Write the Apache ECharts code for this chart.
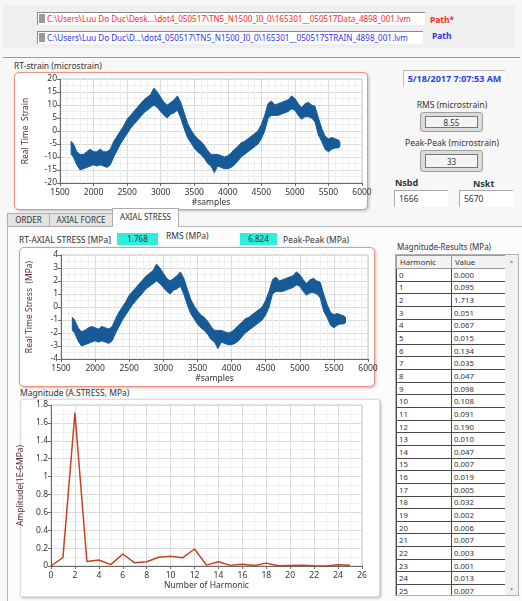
<!DOCTYPE html>
<html>
<head>
<meta charset="utf-8">
<script src="https://cdn.jsdelivr.net/npm/echarts@6/dist/echarts.min.js"></script>
<style>
  body { margin: 0; width: 522px; height: 601px; overflow: hidden; background: #f7f7f7;
         font-family: "Noto Sans", sans-serif; font-size: 8px; color: #333; position: relative; }
  .abs { position: absolute; white-space: nowrap; }
  .frame { position: absolute; background: #fff; border: 1.5px solid #f0907f; border-radius: 5px;
           box-shadow: 1px 1px 3px rgba(0,0,0,0.25); box-sizing: border-box; }
  .pathbox { position: absolute; background: #fff; border-top: 1px solid #8a8a8a; border-left: 1px solid #8a8a8a;
             box-sizing: border-box; font-size: 8.1px; line-height: 11px; padding-left: 9px; white-space: nowrap; overflow: hidden; }
  .pathbox i { position: absolute; left: 1px; top: 1px; width: 6px; height: 9px; background: #9a9a9a; }
  .bevel { position: absolute; background: #dcdcdc; border: 1px solid #a0a0a0; border-radius: 3px; box-sizing: border-box; }
  .bevel div { position: absolute; left: 4px; right: 4px; top: 3px; bottom: 3px; background: #f4f4f4;
               border: 1px solid #777; text-align: center; font-size: 8px; line-height: 12px; }
  .numbox { position: absolute; background: #fff; border-top: 1px solid #aaa; border-left: 1px solid #aaa;
            box-sizing: border-box; font-size: 8.5px; line-height: 15px; padding-left: 4px; }
  .tab { position: absolute; background: #e3e3e3; border: 1px solid #adadad; box-sizing: border-box;
         text-align: center; font-size: 8px; line-height: 12px; }
  .cyan { position: absolute; background: #2eeede; text-align: center; font-size: 8px; line-height: 12px; }
  table { border-collapse: collapse; table-layout: fixed; font-size: 7.8px; }
  td { border: 1px solid #4a4a4a; height: 11.65px; padding: 0 0 0 2px; line-height: 10px; overflow: hidden; }
  th { border: 1px solid #9a9a9a; height: 12px; padding: 0 0 0 3px; font-weight: normal; text-align: left; background: #f2f2f2; }
</style>
</head>
<body>
<!-- path controls -->
<div class="abs" style="left:3px;top:5px;width:512px;height:43px;background:#efefef;"></div>
<div class="pathbox" style="left:37px;top:12px;width:388px;height:13px;color:#ff2a2a;"><i></i>C:\Users\Luu Do Duc\Desk...\dot4_050517\TN5_N1500_I0_0\165301__050517Data_4898_001.lvm</div>
<div class="abs" style="left:430px;top:14px;color:#ff2a2a;font-weight:bold;font-size:8.5px;">Path*</div>
<div class="pathbox" style="left:37px;top:31px;width:386px;height:13px;color:#3434e6;"><i></i>C:\Users\Luu Do Duc\D...\dot4_050517\TN5_N1500_I0_0\165301__050517STRAIN_4898_001.lvm</div>
<div class="abs" style="left:432px;top:30px;color:#3434e6;font-weight:bold;font-size:8.5px;">Path</div>
<div class="abs" style="left:3px;top:57px;width:517px;height:1px;background:#f07a68;"></div>

<!-- strain section -->
<div class="abs" style="left:14px;top:60px;font-size:8.5px;">RT-strain (microstrain)</div>
<div class="frame" style="left:14px;top:72px;width:354px;height:138px;"></div>

<div class="abs" style="left:403px;top:70px;width:102px;height:17px;background:#f9f9f9;border-top:1.5px solid #bdbdbd;border-left:1.5px solid #bdbdbd;box-sizing:border-box;color:#2a3ff0;font-weight:bold;font-size:9px;line-height:15px;text-align:center;">5/18/2017 7:07:53 AM</div>
<div class="abs" style="left:402px;top:99px;width:100px;text-align:center;font-size:8.5px;">RMS (microstrain)</div>
<div class="bevel" style="left:420px;top:112px;width:63px;height:20px;"><div>8.55</div></div>
<div class="abs" style="left:397px;top:137px;width:110px;text-align:center;font-size:8.5px;">Peak-Peak (microstrain)</div>
<div class="bevel" style="left:420px;top:150px;width:63px;height:22px;"><div style="line-height:14px;">33</div></div>
<div class="abs" style="left:395px;top:176px;font-weight:bold;font-size:9px;">Nsbd</div>
<div class="abs" style="left:473px;top:177px;font-weight:bold;font-size:9px;">Nskt</div>
<div class="numbox" style="left:394px;top:190px;width:54px;height:17px;">1666</div>
<div class="numbox" style="left:459px;top:190px;width:54px;height:17px;">5670</div>

<!-- tabs -->
<div class="abs" style="left:7px;top:226px;width:515px;height:375px;background:#fcfcfc;border-left:1px solid #b8b8b8;border-top:1px solid #b8b8b8;box-sizing:border-box;"></div>
<div class="tab" style="left:7px;top:213px;width:43px;height:14px;">ORDER</div>
<div class="tab" style="left:49px;top:213px;width:64px;height:14px;">AXIAL FORCE</div>
<div class="tab" style="left:112px;top:208px;width:67px;height:19px;background:#fcfcfc;border-bottom:none;line-height:16px;">AXIAL STRESS</div>

<div class="abs" style="left:19px;top:234px;font-size:8.5px;">RT-AXIAL STRESS [MPa]</div>
<div class="cyan" style="left:117px;top:233px;width:41px;height:12px;">1.768</div>
<div class="abs" style="left:166px;top:230px;font-size:8.5px;">RMS (MPa)</div>
<div class="cyan" style="left:240px;top:233px;width:37px;height:12px;">6.824</div>
<div class="abs" style="left:283px;top:234px;font-size:8.5px;">Peak-Peak (MPa)</div>
<div class="frame" style="left:19px;top:247px;width:356px;height:140px;"></div>

<div class="frame" style="left:20px;top:399px;width:360px;height:198px;border:1px solid #dcdcdc;border-radius:2px;box-shadow:1px 1px 3px rgba(0,0,0,0.3);"></div>
<div class="abs" style="left:20px;top:387px;font-size:8.5px;">Magnitude (A.STRESS, MPa)</div>

<!-- results table -->
<div class="abs" style="left:397px;top:241px;font-size:8px;">Magnitude-Results (MPa)</div>
<div class="abs" style="left:395px;top:254px;width:124px;height:342px;background:#fff;border:1px solid #b0b0b0;box-sizing:border-box;overflow:hidden;">
  <table id="tbl" style="position:absolute;left:0;top:0;width:110px;">
    <colgroup><col style="width:55px"><col style="width:55px"></colgroup>
    <thead><tr><th>Harmonic</th><th>Value</th></tr></thead>
    <tbody></tbody>
  </table>
  <div style="position:absolute;right:0;top:0;width:13px;height:100%;background:#f0f0f0;color:#999;font-size:5px;text-align:center;">
    <div style="position:absolute;top:3px;width:100%;">&#9650;</div>
    <div style="position:absolute;bottom:3px;width:100%;">&#9660;</div>
  </div>
</div>

<div id="chart" style="position:absolute;left:0;top:0;width:522px;height:601px;"></div>

<script>
// sample index of the time signals
const samples = [1666, 1700, 1750, 1800, 1850, 1900, 1950, 2000, 2050, 2100, 2150, 2200, 2250, 2300, 2350, 2400,
  2450, 2500, 2550, 2600, 2650, 2700, 2750, 2800, 2850, 2900, 2950, 3000, 3050, 3100, 3150, 3200, 3250, 3300,
  3350, 3400, 3450, 3500, 3550, 3600, 3650, 3700, 3750, 3800, 3850, 3900, 3950, 4000, 4050, 4100, 4150, 4200,
  4250, 4300, 4350, 4400, 4450, 4500, 4550, 4600, 4650, 4700, 4750, 4800, 4850, 4900, 4950, 5000, 5050, 5100,
  5150, 5200, 5250, 5300, 5350, 5400, 5450, 5500, 5550, 5600, 5650, 5670];

// noisy band of the strain signal (upper / lower edge, microstrain)
const strainHigh = [-4, -5, -8, -9, -9, -8, -7, -8, -8, -7, -8, -8, -7, -4, -2, 0, 2, 4.5, 6, 7.5, 9, 10.5, 12, 13,
  14, 16.5, 15, 13, 11, 10, 11, 12, 13.5, 11, 7, 3, 0.5, -1.5, -3, -4, -5.5, -7.5, -9, -9, -9, -9.5, -10, -9.5,
  -8.5, -7, -6, -4.5, -4, -3, -2, -1, 0, 2.5, 6, 10.5, 11.5, 10, 10.5, 11, 11.5, 12, 13.5, 12.5, 10.5, 9, 10.5, 11,
  10, 9.5, 5, 1, -2, -3, -2.5, -3, -3.5, -4];
const strainLow = [-9, -10, -13, -15, -14.5, -14, -13.5, -13, -13.5, -13, -13.5, -14, -13, -10, -7.5, -5, -3, -1,
  1, 2.5, 4, 5.5, 7, 8, 9, 10, 9, 7.5, 6, 5, 6.5, 7, 8, 5, 1, -2.5, -4.5, -6.5, -8, -9, -10.5, -12.5, -13.5, -16,
  -13.5, -14, -14.5, -14.5, -14, -13, -11.5, -10, -9, -8, -7, -6, -5, -3, 0, 5, 6, 6, 6, 6.5, 7, 7.5, 8.5, 8, 6,
  4.5, 5.5, 5.5, 5, 3.5, -1.5, -4, -7, -8, -7, -6.5, -6.5, -6];

// noisy band of the axial stress signal (upper / lower edge, MPa)
const stressHigh = [-0.8, -1.0, -1.6, -1.9, -1.8, -1.6, -1.5, -1.6, -1.7, -1.5, -1.6, -1.7, -1.5, -0.9, -0.4, 0.0,
  0.4, 0.9, 1.2, 1.5, 1.8, 2.1, 2.4, 2.6, 2.8, 3.3, 3.0, 2.6, 2.2, 2.0, 2.2, 2.4, 2.7, 2.2, 1.4, 0.6, 0.1, -0.3,
  -0.6, -0.8, -1.1, -1.5, -1.8, -1.8, -1.8, -1.9, -2.0, -1.9, -1.7, -1.4, -1.2, -0.9, -0.8, -0.6, -0.4, -0.2, 0.0,
  0.5, 1.2, 2.1, 2.3, 2.0, 2.1, 2.2, 2.3, 2.4, 2.7, 2.5, 2.1, 1.8, 2.1, 2.2, 2.0, 1.9, 1.0, 0.2, -0.4, -0.6, -0.5,
  -0.6, -0.7, -0.8];
const stressLow = [-1.8, -2.0, -2.6, -3.0, -2.9, -2.8, -2.7, -2.6, -2.7, -2.6, -2.7, -2.8, -2.6, -2.0, -1.5, -1.0,
  -0.6, -0.2, 0.2, 0.5, 0.8, 1.1, 1.4, 1.6, 1.8, 2.0, 1.8, 1.5, 1.2, 1.0, 1.3, 1.4, 1.6, 1.0, 0.2, -0.5, -0.9, -1.3,
  -1.6, -1.8, -2.1, -2.5, -2.7, -3.2, -2.7, -2.8, -2.9, -2.9, -2.8, -2.6, -2.3, -2.0, -1.8, -1.6, -1.4, -1.2, -1.0,
  -0.6, 0.0, 1.0, 1.2, 1.2, 1.2, 1.3, 1.4, 1.5, 1.7, 1.6, 1.2, 0.9, 1.1, 1.1, 1.0, 0.7, -0.3, -0.8, -1.4, -1.6,
  -1.4, -1.3, -1.3, -1.2];

// harmonic magnitudes
const harmonics = [0, 1, 2, 3, 4, 5, 6, 7, 8, 9, 10, 11, 12, 13, 14, 15, 16, 17, 18, 19, 20, 21, 22, 23, 24, 25];
const magnitudes = [0.000, 0.095, 1.713, 0.051, 0.067, 0.015, 0.134, 0.035, 0.047, 0.098, 0.108, 0.091, 0.190,
  0.010, 0.047, 0.007, 0.019, 0.005, 0.032, 0.002, 0.006, 0.007, 0.003, 0.001, 0.013, 0.007];

const BLUE = '#175a98';
const RED = '#c4421f';
const FONT = 'Noto Sans';

// fill the table
const tbody = document.querySelector('#tbl tbody');
harmonics.forEach(function (h, i) {
  const tr = document.createElement('tr');
  tr.innerHTML = '<td>' + h + '</td><td>' + magnitudes[i].toFixed(3) + '</td>';
  tbody.appendChild(tr);
});

function plain(v) { return String(v); }

function xAxisOf(gi, min, max, interval, name, minor) {
  return {
    type: 'value', gridIndex: gi, min: min, max: max, interval: interval,
    name: name, nameLocation: 'middle', nameGap: 15,
    nameTextStyle: { fontSize: 8.5, color: '#333', fontFamily: FONT },
    axisLine: { show: true, onZero: false, lineStyle: { color: '#6a6a6a', width: 1 } },
    axisTick: { show: true, length: 3, lineStyle: { color: '#6a6a6a' } },
    axisLabel: { fontSize: 8.5, color: '#333', margin: 5, fontFamily: FONT, formatter: plain },
    splitLine: { show: true, lineStyle: { color: '#dadada', width: 1 } },
    minorTick: { show: false, splitNumber: minor },
    minorSplitLine: { show: true, lineStyle: { color: '#efefef', width: 1 } }
  };
}

function yAxisOf(gi, min, max, interval, name, gap, minor) {
  return {
    type: 'value', gridIndex: gi, min: min, max: max, interval: interval,
    name: name, nameLocation: 'middle', nameGap: gap, nameRotate: 90,
    nameTextStyle: { fontSize: 8.5, color: '#5a3232', fontFamily: FONT },
    axisLine: { show: true, onZero: false, lineStyle: { color: '#6a6a6a', width: 1 } },
    axisTick: { show: true, length: 3, lineStyle: { color: '#6a6a6a' } },
    axisLabel: { fontSize: 8.5, color: '#333', margin: 3, fontFamily: FONT, formatter: plain },
    splitLine: { show: true, lineStyle: { color: '#dadada', width: 1 } },
    minorTick: { show: false, splitNumber: minor },
    minorSplitLine: { show: true, lineStyle: { color: '#efefef', width: 1 } }
  };
}

function band(gi, hi, lo) {
  return {
    type: 'custom', xAxisIndex: gi, yAxisIndex: gi, clip: true,
    data: [[samples[0], hi[0]]],
    renderItem: function (params, api) {
      const pts = [];
      for (let i = 0; i < samples.length; i++) pts.push(api.coord([samples[i], hi[i]]));
      for (let i = samples.length - 1; i >= 0; i--) pts.push(api.coord([samples[i], lo[i]]));
      return { type: 'polygon', shape: { points: pts }, style: { fill: BLUE, stroke: BLUE, lineWidth: 1 } };
    }
  };
}

const chart = echarts.init(document.getElementById('chart'), null, { renderer: 'canvas' });
chart.setOption({
  backgroundColor: 'transparent',
  animation: false,
  grid: [
    { left: 60, top: 79, width: 302, height: 104, show: true, backgroundColor: '#fff', borderColor: '#c4c4c4', containLabel: false },
    { left: 61, top: 255, width: 307, height: 104, show: true, backgroundColor: '#fff', borderColor: '#c4c4c4', containLabel: false },
    { left: 51, top: 405, width: 311, height: 161, show: true, backgroundColor: '#fff', borderColor: '#c4c4c4', containLabel: false }
  ],
  xAxis: [
    xAxisOf(0, 1500, 6000, 500, '#samples', 5),
    xAxisOf(1, 1500, 6000, 500, '#samples', 5),
    xAxisOf(2, 0, 26, 2, 'Number of Harmonic', 2)
  ],
  yAxis: [
    yAxisOf(0, -20, 20, 5, 'Real Time  Strain', 30, 2),
    yAxisOf(1, -4, 4, 1, 'Real Time Stress  (MPa)', 27, 2),
    yAxisOf(2, 0, 1.8, 0.2, 'Amplitude(1E-6MPa)', 20, 2)
  ],
  series: [
    band(0, strainHigh, strainLow),
    band(1, stressHigh, stressLow),
    {
      type: 'line', xAxisIndex: 2, yAxisIndex: 2, symbol: 'none',
      lineStyle: { color: RED, width: 1.5 },
      data: harmonics.map(function (h, i) { return [h, magnitudes[i]]; })
    }
  ]
});
</script>
</body>
</html>
